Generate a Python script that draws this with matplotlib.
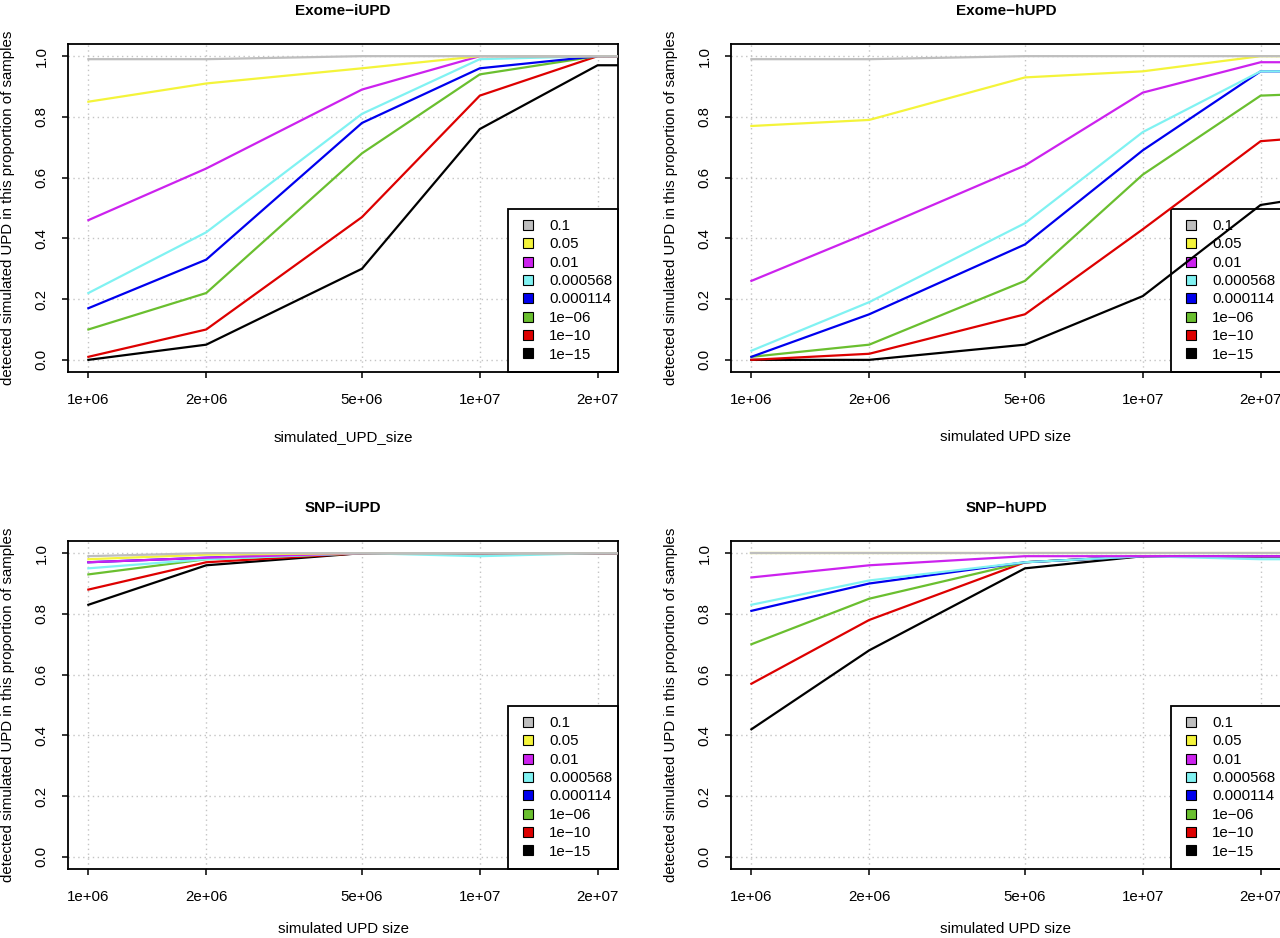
import numpy as np
import matplotlib.pyplot as plt
from matplotlib.lines import Line2D
from matplotlib.ticker import FixedLocator, NullLocator

plt.rcParams['font.family'] = ['Liberation Sans', 'DejaVu Sans']

# simulated UPD sizes (last point lies beyond the plotted range)
upd_size = [1e6, 2e6, 5e6, 1e7, 2e7, 5e7]
size_ticks = [1e6, 2e6, 5e6, 1e7, 2e7]
size_labels = ['1e+06', '2e+06', '5e+06', '1e+07', '2e+07']

thresholds = ['0.1', '0.05', '0.01', '0.000568', '0.000114', '1e\u221206', '1e\u221210', '1e\u221215']
colors = ['#BEBEBE', '#F4F43A', '#CC22EE', '#80F2F2', '#0000EE', '#6ABF2F', '#DD0000', '#000000']

exome_iupd = [
    [0.99, 0.99, 1.00, 1.00, 1.00, 1.00],
    [0.85, 0.91, 0.96, 1.00, 1.00, 1.00],
    [0.46, 0.63, 0.89, 1.00, 1.00, 1.00],
    [0.22, 0.42, 0.81, 0.99, 1.00, 1.00],
    [0.17, 0.33, 0.78, 0.96, 1.00, 1.00],
    [0.10, 0.22, 0.68, 0.94, 1.00, 1.00],
    [0.01, 0.10, 0.47, 0.87, 1.00, 1.00],
    [0.00, 0.05, 0.30, 0.76, 0.97, 0.97],
]

exome_hupd = [
    [0.99, 0.99, 1.00, 1.00, 1.00, 1.00],
    [0.77, 0.79, 0.93, 0.95, 1.00, 1.00],
    [0.26, 0.42, 0.64, 0.88, 0.98, 0.98],
    [0.03, 0.19, 0.45, 0.75, 0.95, 0.95],
    [0.01, 0.15, 0.38, 0.69, 0.95, 0.95],
    [0.01, 0.05, 0.26, 0.61, 0.87, 0.89],
    [0.00, 0.02, 0.15, 0.43, 0.72, 0.76],
    [0.00, 0.00, 0.05, 0.21, 0.51, 0.59],
]

snp_iupd = [
    [0.99, 1.00, 1.00, 1.00, 1.00, 1.00],
    [0.98, 0.995, 1.00, 1.00, 1.00, 1.00],
    [0.97, 0.985, 1.00, 1.00, 1.00, 1.00],
    [0.95, 0.98, 1.00, 0.99, 1.00, 1.00],
    [0.97, 0.985, 1.00, 1.00, 1.00, 1.00],
    [0.93, 0.98, 1.00, 1.00, 1.00, 1.00],
    [0.88, 0.97, 1.00, 1.00, 1.00, 1.00],
    [0.83, 0.96, 1.00, 1.00, 1.00, 1.00],
]

snp_hupd = [
    [1.00, 1.00, 1.00, 1.00, 1.00, 1.00],
    [1.00, 1.00, 1.00, 1.00, 1.00, 1.00],
    [0.92, 0.96, 0.99, 0.99, 0.99, 0.99],
    [0.83, 0.91, 0.97, 0.99, 0.98, 0.98],
    [0.81, 0.90, 0.97, 0.99, 0.99, 0.99],
    [0.70, 0.85, 0.97, 0.99, 0.99, 0.99],
    [0.57, 0.78, 0.97, 0.99, 0.99, 0.99],
    [0.42, 0.68, 0.95, 0.99, 0.99, 0.99],
]

panels = [
    ('Exome\u2212iUPD', 'simulated_UPD_size', exome_iupd, 68, 44),
    ('Exome\u2212hUPD', 'simulated UPD size', exome_hupd, 731, 44),
    ('SNP\u2212iUPD', 'simulated UPD size', snp_iupd, 68, 541),
    ('SNP\u2212hUPD', 'simulated UPD size', snp_hupd, 731, 541),
]

W, H = 1280, 938
fig = plt.figure(figsize=(W / 100, H / 100), dpi=100)
fig.patch.set_facecolor('white')
fs = 10.8
pad_x = (np.log10(2e7) - 6) * 0.04

for title, xlab, data, left_px, top_px in panels:
    w_px, h_px = 550, 328
    ax = fig.add_axes([left_px / W, 1 - (top_px + h_px) / H, w_px / W, h_px / H])
    ax.set_xscale('log')
    ax.set_xlim(10 ** (6 - pad_x), 10 ** (np.log10(2e7) + pad_x))
    ax.set_ylim(-0.04, 1.04)

    ax.xaxis.set_major_locator(FixedLocator(size_ticks))
    ax.xaxis.set_minor_locator(NullLocator())
    ax.set_xticklabels(size_labels)
    yt = [0.0, 0.2, 0.4, 0.6, 0.8, 1.0]
    ax.set_yticks(yt)
    ax.set_yticklabels(['%.1f' % v for v in yt], rotation=90, va='center')
    ax.tick_params(axis='both', direction='out', length=4.3, width=1.1, labelsize=fs)
    ax.tick_params(axis='x', pad=10.5)
    ax.tick_params(axis='y', pad=9.5)
    for sp in ax.spines.values():
        sp.set_linewidth(1.3)

    ax.set_axisbelow(True)
    ax.grid(True, which='major', linestyle=(0, (1, 2.5)), color='#C4C4C4', linewidth=1.0)

    # draw from strictest threshold up so 0.1 ends on top
    for i in reversed(range(len(thresholds))):
        ax.plot(upd_size, data[i], color=colors[i], linewidth=1.6, zorder=3 + (7 - i) * 0.01)

    handles = [Line2D([], [], linestyle='none', marker='s', markersize=6.6,
                      markerfacecolor=c, markeredgecolor='black', markeredgewidth=0.8)
               for c in colors]
    leg = ax.legend(handles, thresholds, loc='lower left', bbox_to_anchor=(0.8, 0.0, 0.2, 0.5),
                    mode='expand', borderaxespad=0, fontsize=fs, fancybox=False,
                    framealpha=1, edgecolor='black', handlelength=1.2, handleheight=0.7,
                    handletextpad=0.85, labelspacing=0.29, borderpad=0.7)
    leg.get_frame().set_linewidth(1.3)
    leg.set_zorder(2)

    ax.set_title(title, fontsize=11, fontweight='bold', pad=21)
    ax.set_xlabel(xlab, fontsize=fs)
    ax.xaxis.set_label_coords(0.5, -(437 - 44 - h_px) / h_px if top_px == 44 else -(929 - 541 - h_px) / h_px)
    ax.xaxis.label.set_va('center')
    ax.set_ylabel('detected simulated UPD in this proportion of samples', fontsize=fs)
    ax.yaxis.set_label_coords(-60 / w_px, 0.5)
    ax.yaxis.label.set_va('center')

fig.savefig('out.png', dpi=100)
